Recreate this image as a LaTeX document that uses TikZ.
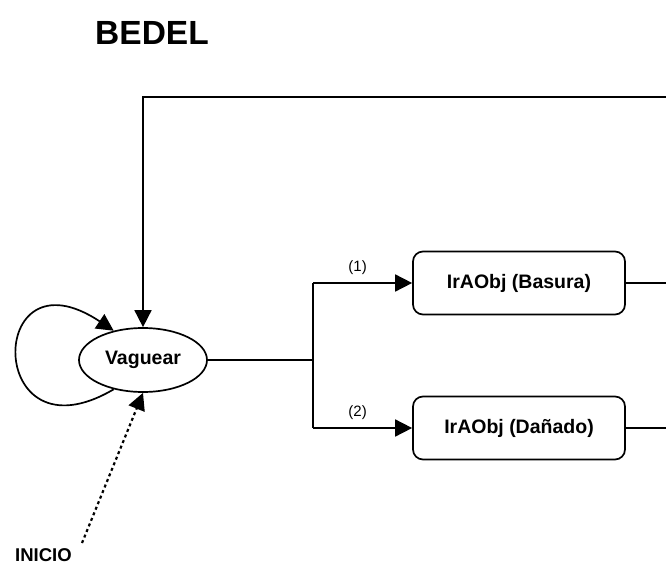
\documentclass[tikz,border=0pt]{standalone}
\usepackage{fontspec}
\setmainfont{Liberation Sans}
\usetikzlibrary{positioning,arrows.meta,shapes.geometric}

\begin{document}
\begin{tikzpicture}[%
            x=1pt, y=-1pt,
            estado/.style={ellipse, draw, line width=1.7pt, minimum width=128pt, minimum height=64pt, inner sep=0pt, font=\fontsize{19.5}{21}\selectfont\bfseries},
            accion/.style={rectangle, rounded corners=10pt, draw, line width=1.7pt, minimum width=212pt, minimum height=63pt, font=\fontsize{19.5}{21}\selectfont\bfseries},
            etiqueta/.style={font=\fontsize{15}{17}\selectfont},
            flecha/.style={-{Triangle[length=17pt,width=17pt]}, line width=1.7pt},
            linea/.style={line width=1.7pt}
        ]
        \useasboundingbox (0,0) rectangle (666,564);

        % Titulo
        \node[font=\fontsize{33.5}{36}\selectfont\bfseries] (titulo) at (152,33) {BEDEL};

        % Estados
        \node[estado] (vaguear) at (143,360) {Vaguear};
        \node[accion] (basura) at (519,283) {IrAObj (Basura)};
        \node[accion] (danado) at (519,428) {IrAObj (Dañado)};

        % Inicio
        \node[font=\fontsize{18.5}{20}\selectfont\bfseries, anchor=base west, inner sep=0pt] (inicio) at (15,561) {INICIO};
        \coordinate (inicioPunto) at (82,543);
        \draw[flecha, line width=2.2pt, dash pattern=on 3pt off 3pt] (inicioPunto) -- (vaguear.south);

        % Bucle sobre Vaguear
        \draw[flecha] (vaguear.225) .. controls (-15,465) and (-15,245) .. (vaguear.135);

        % Retorno desde arriba
        \coordinate (retornoDer) at (666,97);
        \coordinate (retornoIzq) at (143,97);
        \draw[flecha] (retornoDer) -- (retornoIzq) -- (vaguear.north);

        % Ramas de salida
        \coordinate (rama) at (313,360);
        \coordinate (rama1) at (313,283);
        \coordinate (rama2) at (313,428);
        \draw[linea] (vaguear.east) -- (rama);
        \draw[linea] (rama1) -- (rama2);
        \draw[flecha] (rama1) -- (basura.west) node[etiqueta, pos=0.45, above=4pt] {(1)};
        \draw[flecha] (rama2) -- (danado.west) node[etiqueta, pos=0.45, above=4pt] {(2)};

        % Salidas a la derecha
        \coordinate (salida1) at (666,283);
        \coordinate (salida2) at (666,428);
        \draw[linea] (basura.east) -- (salida1);
        \draw[linea] (danado.east) -- (salida2);

        \end{tikzpicture}
\end{document}
